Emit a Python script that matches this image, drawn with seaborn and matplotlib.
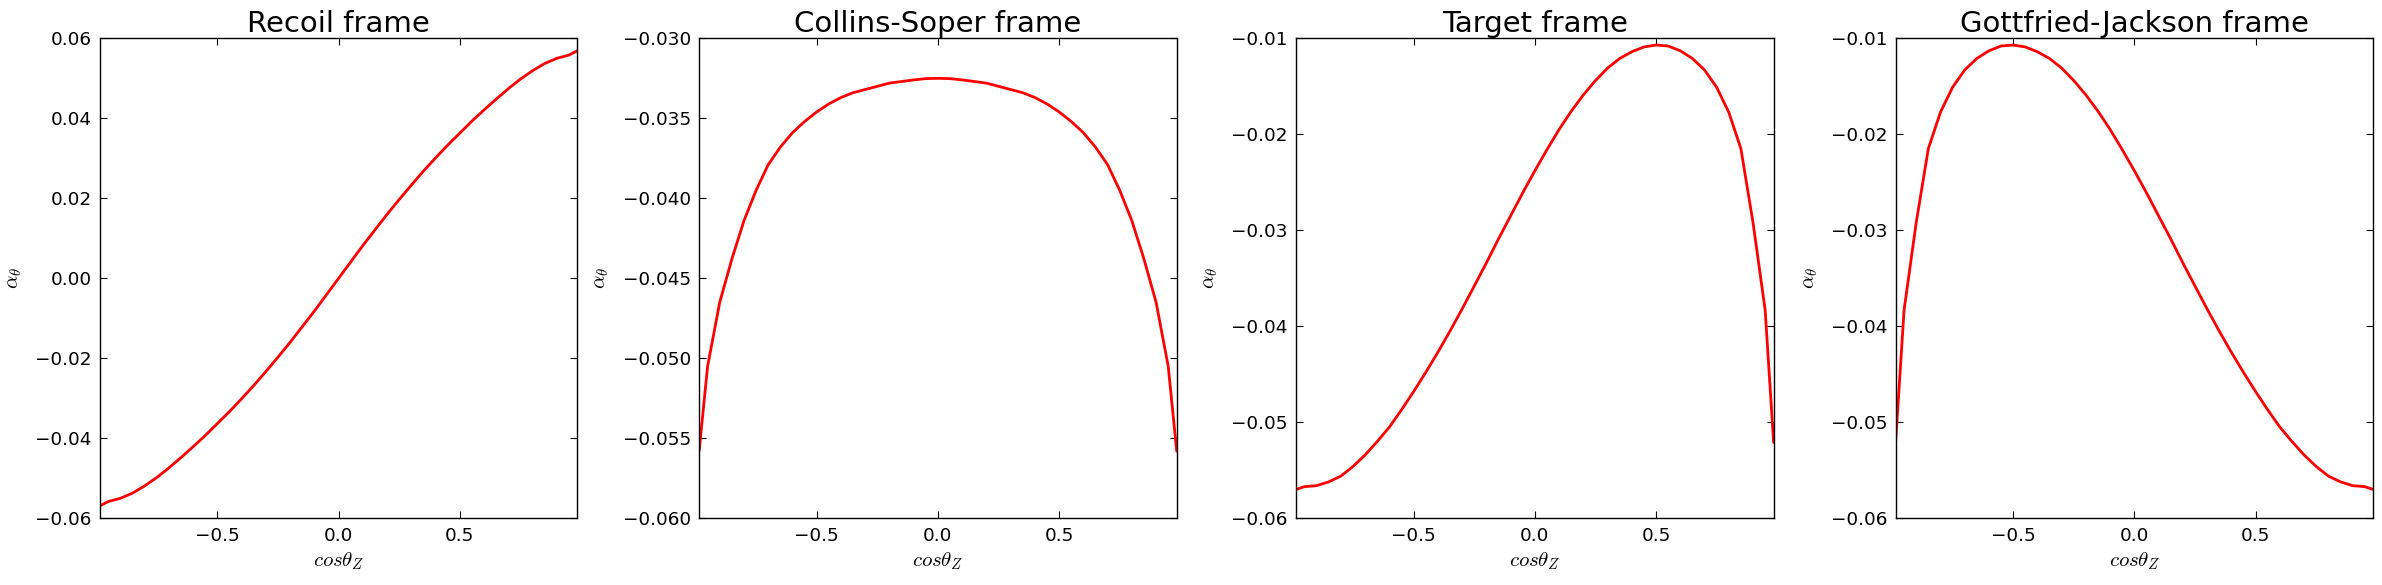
import matplotlib
matplotlib.use("Agg")
import matplotlib.pyplot as plt
import pandas as pd
import seaborn as sns

# values
cos_theta = [-0.985, -0.95, -0.9, -0.85, -0.8, -0.75, -0.7, -0.65, -0.6, -0.55,
             -0.5, -0.45, -0.4, -0.35, -0.3, -0.25, -0.2, -0.15, -0.1, -0.05,
             0.0, 0.05, 0.1, 0.15, 0.2, 0.25, 0.3, 0.35, 0.4, 0.45,
             0.5, 0.55, 0.6, 0.65, 0.7, 0.75, 0.8, 0.85, 0.9, 0.95, 0.985]

recoil = [-0.0569, -0.0558, -0.0550, -0.0537, -0.0519, -0.0498, -0.0474, -0.0448, -0.0421, -0.0393,
          -0.0363, -0.0333, -0.0301, -0.0268, -0.0233, -0.0197, -0.0160, -0.0121, -0.0082, -0.0041,
          0.0, 0.0041, 0.0082, 0.0121, 0.0160, 0.0197, 0.0233, 0.0268, 0.0301, 0.0333,
          0.0363, 0.0393, 0.0421, 0.0448, 0.0474, 0.0498, 0.0519, 0.0537, 0.0550, 0.0558, 0.0569]

collins_soper = [-0.0558, -0.0505, -0.0465, -0.0438, -0.0414, -0.0395, -0.0379, -0.0368, -0.0359, -0.0352,
                 -0.0346, -0.0341, -0.0337, -0.0334, -0.0332, -0.0330, -0.0328, -0.0327, -0.0326, -0.03252,
                 -0.0325, -0.03252, -0.0326, -0.0327, -0.0328, -0.0330, -0.0332, -0.0334, -0.0337, -0.0341,
                 -0.0346, -0.0352, -0.0359, -0.0368, -0.0379, -0.0395, -0.0414, -0.0438, -0.0465, -0.0505, -0.0558]

target = [-0.0570, -0.0567, -0.0566, -0.0562, -0.0556, -0.0546, -0.0534, -0.0520, -0.0505, -0.0487,
          -0.0468, -0.0448, -0.0427, -0.0405, -0.0382, -0.0358, -0.0334, -0.0309, -0.0285, -0.0261,
          -0.0238, -0.0216, -0.0195, -0.0176, -0.0159, -0.0144, -0.0131, -0.0121, -0.0114, -0.0109,
          -0.0107, -0.0108, -0.0113, -0.0121, -0.0133, -0.0151, -0.0177, -0.0215, -0.0292, -0.0383, -0.0521]

gottfried_jackson = [-0.0521, -0.0383, -0.0292, -0.0215, -0.0177, -0.0151, -0.0133, -0.0121, -0.0113, -0.0108,
                     -0.0107, -0.0109, -0.0114, -0.0121, -0.0131, -0.0144, -0.0159, -0.0176, -0.0195, -0.0216,
                     -0.0238, -0.0261, -0.0285, -0.0309, -0.0334, -0.0358, -0.0382, -0.0405, -0.0427, -0.0448,
                     -0.0468, -0.0487, -0.0505, -0.0520, -0.0534, -0.0546, -0.0556, -0.0562, -0.0566, -0.0567, -0.0570]

titles = ["Recoil frame", "Collins-Soper frame", "Target frame", "Gottfried-Jackson frame"]
series = [recoil, collins_soper, target, gottfried_jackson]
ylims = [(-0.06, 0.06), (-0.060, -0.030), (-0.06, -0.01), (-0.06, -0.01)]
yticks = [
    [-0.06, -0.04, -0.02, 0.00, 0.02, 0.04, 0.06],
    [-0.060, -0.055, -0.050, -0.045, -0.040, -0.035, -0.030],
    [-0.06, -0.05, -0.04, -0.03, -0.02, -0.01],
    [-0.06, -0.05, -0.04, -0.03, -0.02, -0.01],
]
yfmt = ["{:.2f}", "{:.3f}", "{:.2f}", "{:.2f}"]

sns.set_theme(style="white", rc={
    "xtick.direction": "in",
    "ytick.direction": "in",
    "xtick.top": True,
    "ytick.right": True,
    "xtick.bottom": True,
    "ytick.left": True,
    "xtick.major.size": 5,
    "ytick.major.size": 5,
    "xtick.major.width": 0.8,
    "ytick.major.width": 0.8,
    "axes.edgecolor": "black",
    "axes.linewidth": 1.0,
    "text.color": "black",
    "axes.labelcolor": "black",
    "xtick.color": "black",
    "ytick.color": "black",
    "mathtext.fontset": "cm",
})
plt.rcParams["font.family"] = ["DejaVu Sans"]

fig = plt.figure(figsize=(23.82, 5.85), dpi=100)
lefts = [0.0419, 0.2935, 0.5441, 0.7958]

for left, title, values, ylim, ticks, fmt in zip(lefts, titles, series, ylims, yticks, yfmt):
    ax = fig.add_axes([left, 0.114, 0.2005, 0.8205])
    df = pd.DataFrame({"cos": cos_theta, "alpha": values})
    sns.lineplot(data=df, x="cos", y="alpha", ax=ax, color="red", linewidth=2)
    ax.set_xlim(-0.985, 0.985)
    ax.set_ylim(*ylim)
    ax.set_xticks([-0.5, 0.0, 0.5])
    ax.set_xticklabels([f"{t:.1f}".replace("-", "\u2212") for t in [-0.5, 0.0, 0.5]])
    ax.set_yticks(ticks)
    ax.set_yticklabels([fmt.format(t).replace("-", "\u2212") for t in ticks])
    ax.tick_params(labelsize=13.2, pad=6, color="black", labelcolor="black")
    ax.set_title(title, fontsize=21, pad=4, color="black")
    ax.set_xlabel(r"$cos\theta_Z$", fontsize=15, labelpad=4, color="black")
    ax.set_ylabel(r"$\alpha_\theta$", fontsize=15, labelpad=8, color="black")
    for s in ax.spines.values():
        s.set_visible(True)
        s.set_color("black")

fig.savefig("out.png", dpi=100, facecolor="white")
